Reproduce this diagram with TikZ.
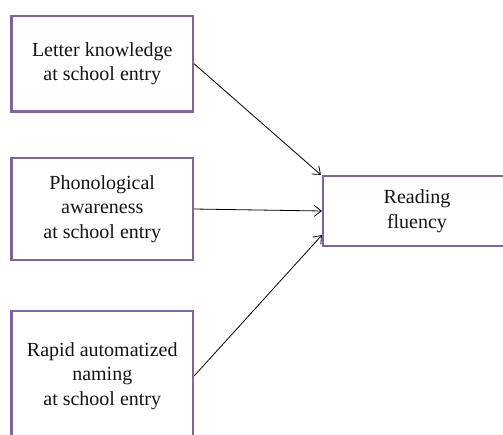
\documentclass[tikz,border=0pt]{standalone}
\usepackage{fontspec}
\setmainfont{Liberation Serif}
\usetikzlibrary{arrows.meta}
\definecolor{boxpurple}{RGB}{128,100,162}
\definecolor{txt}{RGB}{20,20,20}
\tikzset{
  factor/.style={draw=boxpurple, line width=2.2pt, fill=white, align=center,
    text=txt, font=\fontsize{20}{24.5}\selectfont, inner sep=0pt},
  link/.style={draw=black, line width=0.8pt, -{Straight Barb[length=7pt,width=11pt]}}
}
\begin{document}
\begin{tikzpicture}[x=1pt, y=-1pt]
  \useasboundingbox (0,0) rectangle (503,434);
  % predictors at school entry
  \node[factor, minimum width=181.5pt, minimum height=95.5pt] (b1) at (102.25,63.75)
    {Letter knowledge\\at school entry};
  \node[factor, minimum width=181.5pt, minimum height=102pt] (b2) at (102.25,209)
    {Phonological\\awareness\\at school entry};
  \node[factor, minimum width=181.5pt, minimum height=130pt] (b3) at (102.25,376)
    {Rapid automatized\\naming\\at school entry};
  % outcome
  \node[factor, minimum width=188pt, minimum height=70pt] (rf) at (417,211)
    {Reading\\fluency};
  % paths
  \draw[link] (b1.east) -- ([xshift=-1pt]rf.north west);
  \draw[link] (b2.east) -- (rf.west);
  \draw[link] (b3.east) -- ([yshift=12pt]rf.south west);
\end{tikzpicture}
\end{document}
